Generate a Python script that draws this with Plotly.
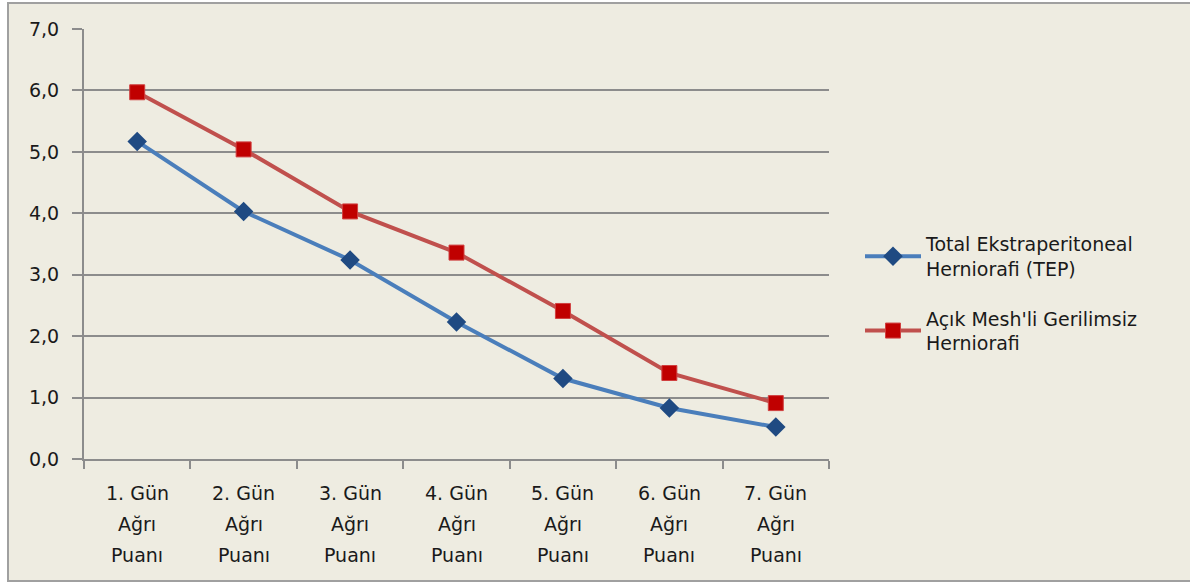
import plotly.graph_objects as go

categories = ["1. Gün", "2. Gün", "3. Gün", "4. Gün", "5. Gün", "6. Gün", "7. Gün"]
label_line2 = "Ağrı"
label_line3 = "Puanı"
tep_values = [5.17, 4.03, 3.24, 2.23, 1.31, 0.83, 0.52]
open_values = [5.97, 5.04, 4.03, 3.36, 2.41, 1.40, 0.91]
series_names = ["Total Ekstraperitoneal<br>Herniorafi (TEP)", "Açık Mesh'li Gerilimsiz<br>Herniorafi"]
y_ticks = [0, 1, 2, 3, 4, 5, 6, 7]

FONT = "DejaVu Sans"
TXT = "#1a1a1a"
GRID = "#8c8c8c"

fig = go.Figure()
fig.add_trace(go.Scatter(
    x=categories, y=tep_values, mode="lines+markers", name=series_names[0],
    legendgroup="a",
    line=dict(color="#4a7ebb", width=4),
    marker=dict(symbol="diamond", size=15, color="#1f4a82"),
))
fig.add_trace(go.Scatter(
    x=categories, y=open_values, mode="lines+markers", name=series_names[1],
    legendgroup="b",
    line=dict(color="#c0504d", width=4),
    marker=dict(symbol="square", size=15, color="#c00000", line=dict(color="#d04040", width=1)),
))

W, H = 1190, 583
L, R, T, B = 84, 361, 29, 124
pw = W - L - R
ph = H - T - B

annotations = []
for c in categories:
    for i, txt in enumerate([c, label_line2, label_line3]):
        annotations.append(dict(
            x=c, xref="x", y=0, yref="paper", text=txt, showarrow=False,
            yanchor="middle", xanchor="center", yshift=-34 - 31 * i,
            font=dict(family=FONT, size=19, color=TXT),
        ))

fig.update_layout(
    width=W, height=H,
    margin=dict(l=L, r=R, t=T, b=B),
    paper_bgcolor="white",
    plot_bgcolor="rgba(0,0,0,0)",
    separators=",.",
    font=dict(family=FONT, size=19, color=TXT),
    showlegend=True,
    legend=dict(
        x=(860 - L) / pw, xanchor="left", y=0.385, yanchor="middle",
        bgcolor="rgba(0,0,0,0)", font=dict(family=FONT, size=19, color=TXT),
        tracegroupgap=22, itemwidth=56,
    ),
    xaxis=dict(
        type="category", showgrid=False, showline=True, linecolor=GRID, linewidth=2,
        ticks="outside", tickson="boundaries", ticklen=8, tickcolor=GRID, tickwidth=2,
        showticklabels=False, range=[-0.5, len(categories) - 0.5], fixedrange=True,
    ),
    yaxis=dict(
        range=[0, 7], tickvals=y_ticks, tickformat=".1f", showgrid=True, gridcolor=GRID,
        gridwidth=2, showline=True, linecolor=GRID, linewidth=2, ticks="outside",
        ticklen=10, tickcolor=GRID, tickwidth=2, zeroline=False,
        tickfont=dict(family=FONT, size=19, color=TXT), ticklabelstandoff=9,
    ),
    annotations=annotations,
    shapes=[dict(
        type="rect", xref="paper", yref="paper", layer="below",
        x0=(8 - L) / pw, x1=(1260 - L) / pw, y0=(H - B - 581) / ph, y1=(H - B - 3) / ph,
        fillcolor="#eeece1", line=dict(color="#a0a0a0", width=2),
    )],
)

fig.write_html(
    "out.html",
    config={"displayModeBar": False},
    post_script="document.body.style.margin='0';document.body.style.overflow='hidden';",
)
